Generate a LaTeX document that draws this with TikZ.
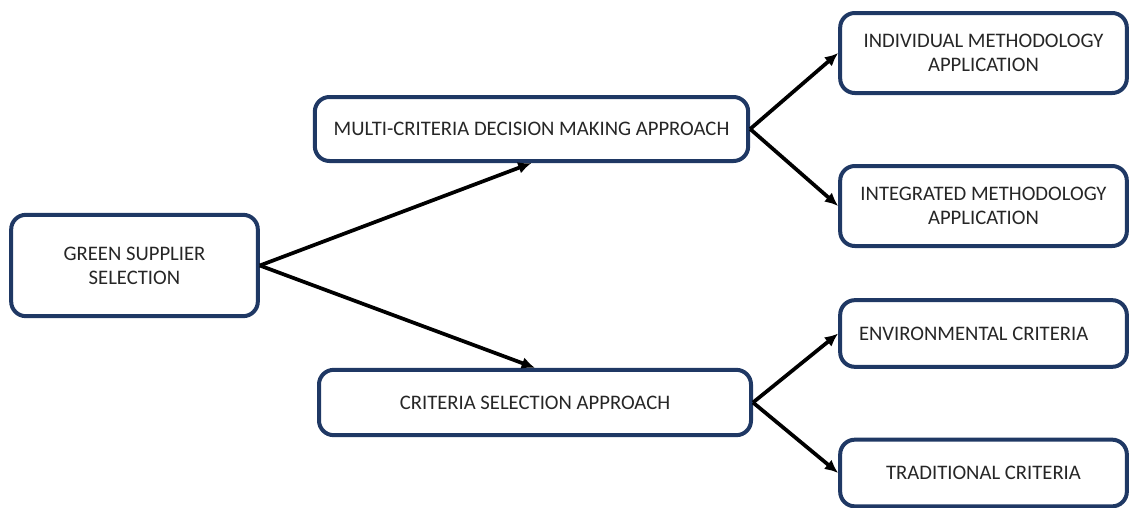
\documentclass[tikz,border=0pt]{standalone}
\usepackage{fontspec}
\setmainfont{Carlito}
\usetikzlibrary{arrows.meta}
\definecolor{boxblue}{HTML}{1F3864}
\tikzset{
  box/.style={draw=boxblue, line width=3pt, rounded corners=11pt, align=center,
    text=black!85, font=\fontsize{15.5}{18}\selectfont, inner sep=0pt},
  arr/.style={-{Latex[length=10pt,width=9pt]}, line width=2.8pt}
}

\begin{document}
\begin{tikzpicture}[x=0.75pt,y=-0.75pt]
\useasboundingbox (0,0) rectangle (1130,507);
% left box
\node[box, minimum width=185pt, minimum height=76pt] (gss) at (134.5,265.5) {GREEN SUPPLIER\\SELECTION};
% middle boxes
\node[box, minimum width=325pt, minimum height=48pt] (mcdm) at (531.5,129) {MULTI-CRITERIA DECISION MAKING APPROACH};
\node[box, minimum width=324pt, minimum height=49pt] (csa) at (535,402.5) {CRITERIA SELECTION APPROACH};
% right boxes
\node[box, minimum width=215pt, minimum height=60pt] (ind) at (983.5,53) {INDIVIDUAL METHODOLOGY\\APPLICATION};
\node[box, minimum width=215pt, minimum height=60pt] (int) at (983.5,206) {INTEGRATED METHODOLOGY\\APPLICATION};
\node[box, minimum width=215pt, minimum height=50pt, text width=186.75pt, align=flush left] (env) at (983.5,333.5) {ENVIRONMENTAL CRITERIA};
\node[box, minimum width=215pt, minimum height=50pt] (trad) at (983.5,473) {TRADITIONAL CRITERIA};
% arrows
\draw[arr] (gss.east) -- (mcdm.south);
\draw[arr] (gss.east) -- (csa.north);
\draw[arr] (mcdm.east) -- (ind.west);
\draw[arr] (mcdm.east) -- (int.west);
\draw[arr] (csa.east) -- (env.west);
\draw[arr] (csa.east) -- (trad.west);
\end{tikzpicture}
\end{document}
